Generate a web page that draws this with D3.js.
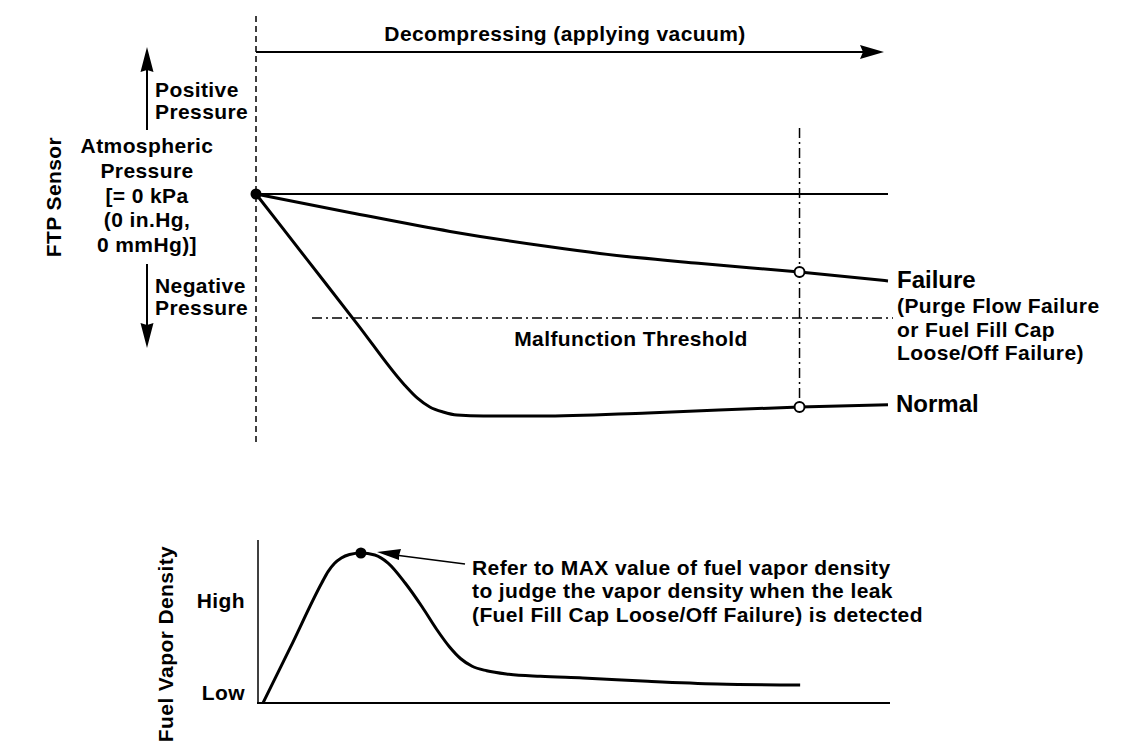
<!DOCTYPE html>
<html><head><meta charset="utf-8">
<script src="https://cdn.jsdelivr.net/npm/d3@7"></script>
<style>
html,body{margin:0;padding:0;background:#fff;}
svg text{font-family:"Liberation Sans",Arial,Helvetica,sans-serif;font-weight:bold;fill:#000;}
</style></head><body>
<svg id="c" width="1136" height="754"></svg>
<script>
// ---- data ----
const timeDomain = [0, 100];          // time during decompression (arbitrary units)
const pressureDomain = [0, -100];     // FTP sensor (0 = atmospheric)
const densityDomain = [0, 100];       // fuel vapor density (0 = low)

const failureT = [0, 15, 30.7, 46.5, 54.4, 70, 86, 100];
const failureP = [0, -8.5, -17, -24, -27, -31.5, -35.5, -39.5];

const normalT = [0, 8, 16, 23.5, 25.5, 27.5, 29.6, 31.8, 36, 45, 62, 86, 100];
const normalP = [0, -29.5, -59, -86.8, -92.7, -96.8, -99.1, -100.5, -100.9, -100.9, -99.5, -96.8, -95.8];

const thresholdP = -56.4;
const checkT = 86;
const startT = 0;

const densityT = [1.1, 5.4, 10.4, 11.4, 12.4, 13.5, 14.8, 16.6, 18.8, 20.9, 23.6, 26.3, 28.6, 30.6, 32.4, 34.2, 36.5, 40, 45, 51.7, 62, 73, 86.1];
const densityV = [0, 36.7, 80, 87.6, 93, 96.7, 99, 100, 98.7, 93.3, 80, 64, 49, 37.5, 29.5, 24.5, 21.5, 19.2, 17.8, 16.7, 14.5, 12.7, 12];
const peakT = 16.6, peakV = 100;

const titleText = "Decompressing (applying vacuum)";
const ftpLabel = "FTP Sensor";
const densityLabel = "Fuel Vapor Density";
const positiveLines = ["Positive", "Pressure"];
const negativeLines = ["Negative", "Pressure"];
const atmLines = ["Atmospheric", "Pressure", "[= 0 kPa", "(0 in.Hg,", "0 mmHg)]"];
const failureTitle = "Failure";
const failureLines = ["(Purge Flow Failure", "or Fuel Fill Cap", "Loose/Off Failure)"];
const normalLabel = "Normal";
const thresholdLabel = "Malfunction Threshold";
const densityTicks = ["High", "Low"];
const noteLines = ["Refer to MAX value of fuel vapor density",
                   "to judge the vapor density when the leak",
                   "(Fuel Fill Cap Loose/Off Failure) is detected"];

// ---- scales ----
const svg = d3.select("#c");
const x = d3.scaleLinear().domain(timeDomain).range([256, 888]);
const yP = d3.scaleLinear().domain(pressureDomain).range([194, 414]);
const yD = d3.scaleLinear().domain(densityDomain).range([703, 553]);

const FS = 21, LS = "0.4px";
function txt(xp, yp, s, opt = {}) {
  return svg.append("text").attr("x", xp).attr("y", yp).text(s)
    .attr("font-size", opt.size || FS)
    .attr("letter-spacing", opt.ls || LS)
    .attr("text-anchor", opt.anchor || "start")
    .attr("transform", opt.rot ? `rotate(-90,${xp},${yp})` : null);
}

// ---- top chart ----
svg.append("line").attr("x1", x(startT)).attr("x2", x(startT)).attr("y1", 16).attr("y2", 442)
  .attr("stroke", "#000").attr("stroke-width", 1.5).attr("stroke-dasharray", "6,4");

svg.append("line").attr("x1", x(startT)).attr("x2", 866).attr("y1", 52).attr("y2", 52)
  .attr("stroke", "#000").attr("stroke-width", 2);
svg.append("path").attr("d", "M860,45 L884,52 L860,59 L863,52 Z").attr("fill", "#000");
txt(565, 41, titleText, {anchor: "middle"});

svg.append("line").attr("x1", 147).attr("x2", 147).attr("y1", 130).attr("y2", 66).attr("stroke", "#000").attr("stroke-width", 2);
svg.append("path").attr("d", "M147,47 L153.5,72 L147,70 L140.5,72 Z").attr("fill", "#000");
svg.append("line").attr("x1", 147).attr("x2", 147).attr("y1", 264).attr("y2", 330).attr("stroke", "#000").attr("stroke-width", 2);
svg.append("path").attr("d", "M147,348 L153.5,323 L147,325 L140.5,323 Z").attr("fill", "#000");

positiveLines.forEach((s, i) => txt(155, 97 + i * 21.5, s));
negativeLines.forEach((s, i) => txt(155, 293 + i * 22, s));
atmLines.forEach((s, i) => txt(147, 153 + i * 24.8, s, {anchor: "middle"}));
txt(61, 197, ftpLabel, {anchor: "middle", rot: true});

svg.append("line").attr("x1", x(startT)).attr("x2", x(100)).attr("y1", yP(0)).attr("y2", yP(0))
  .attr("stroke", "#000").attr("stroke-width", 2);

svg.append("line").attr("x1", 312).attr("x2", 893).attr("y1", yP(thresholdP)).attr("y2", yP(thresholdP))
  .attr("stroke", "#000").attr("stroke-width", 1.5).attr("stroke-dasharray", "10,4,2,4");
txt(631, 346, thresholdLabel, {anchor: "middle"});

const normalAtCheck = normalP[normalT.indexOf(checkT)];
const failureAtCheck = failureP[failureT.indexOf(checkT)];
svg.append("line").attr("x1", x(checkT)).attr("x2", x(checkT)).attr("y1", 128).attr("y2", yP(normalAtCheck))
  .attr("stroke", "#000").attr("stroke-width", 1.5).attr("stroke-dasharray", "10,4,2,4");

const lineP = d3.line().x(d => x(d[0])).y(d => yP(d[1])).curve(d3.curveMonotoneX);
svg.append("path").attr("d", lineP(d3.zip(failureT, failureP))).attr("fill", "none")
  .attr("stroke", "#000").attr("stroke-width", 3);
svg.append("path").attr("d", lineP(d3.zip(normalT, normalP))).attr("fill", "none")
  .attr("stroke", "#000").attr("stroke-width", 3);

svg.append("circle").attr("cx", x(startT)).attr("cy", yP(0)).attr("r", 5.5).attr("fill", "#000");
[failureAtCheck, normalAtCheck].forEach(v => {
  svg.append("circle").attr("cx", x(checkT)).attr("cy", yP(v)).attr("r", 5)
    .attr("fill", "#fff").attr("stroke", "#000").attr("stroke-width", 2);
});

txt(897, 288, failureTitle, {size: 24, ls: "0px"});
failureLines.forEach((s, i) => txt(897, 313 + i * 23.5, s));
txt(896, 412, normalLabel, {size: 24, ls: "0px"});

// ---- bottom chart ----
svg.append("line").attr("x1", 258).attr("x2", 258).attr("y1", 540).attr("y2", yD(0))
  .attr("stroke", "#000").attr("stroke-width", 1.5);
svg.append("line").attr("x1", 257).attr("x2", 890).attr("y1", yD(0)).attr("y2", yD(0))
  .attr("stroke", "#000").attr("stroke-width", 2);
txt(245, 608, densityTicks[0], {anchor: "end"});
txt(245, 700, densityTicks[1], {anchor: "end"});
txt(173, 644, densityLabel, {anchor: "middle", rot: true});

const lineD = d3.line().x(d => x(d[0])).y(d => yD(d[1])).curve(d3.curveMonotoneX);
svg.append("path").attr("d", lineD(d3.zip(densityT, densityV))).attr("fill", "none")
  .attr("stroke", "#000").attr("stroke-width", 3);
svg.append("circle").attr("cx", x(peakT)).attr("cy", yD(peakV)).attr("r", 5.5).attr("fill", "#000");

svg.append("line").attr("x1", 465).attr("y1", 564).attr("x2", 395).attr("y2", 555)
  .attr("stroke", "#000").attr("stroke-width", 1.5);
svg.append("path").attr("d", "M377,552 L401,549 L399,555.5 L399,560 Z").attr("fill", "#000");
noteLines.forEach((s, i) => txt(472, 575 + i * 23.3, s));
</script>
</body></html>
